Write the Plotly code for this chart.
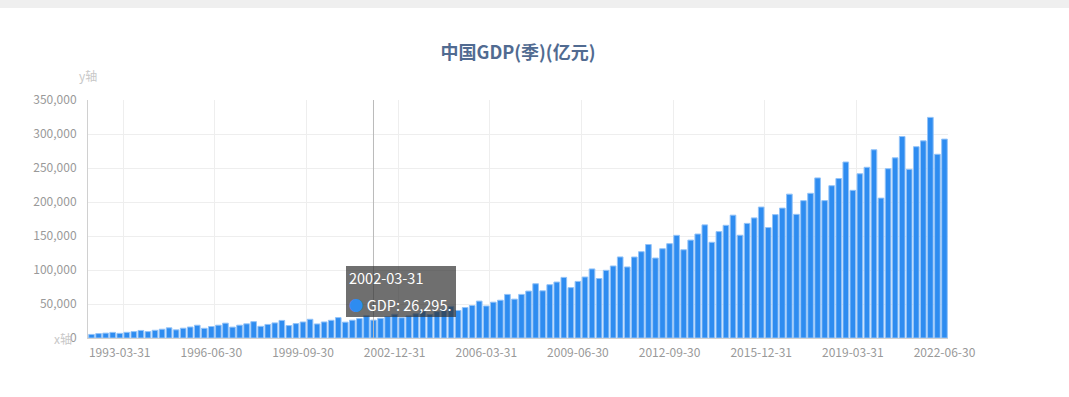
import plotly.graph_objects as go

# ---- data (亿元, quarterly) ----
years = list(range(1992, 2023))
quarter_ends = ["03-31", "06-30", "09-30", "12-31"]

gdp_1992_2001 = [
    5262.8, 6484.3, 7192.9, 8255.4,
    6834.6, 8357.0, 9385.4, 11096.6,
    9375.7, 11349.0, 12929.9, 14982.4,
    11981.9, 14389.8, 16178.0, 18789.6,
    14256.3, 16916.1, 18838.6, 21802.4,
    15998.9, 18853.8, 20851.4, 24010.9,
    17194.1, 19960.3, 22180.0, 25860.6,
    18272.2, 21168.2, 23575.6, 27548.0,
    20647.0, 23587.3, 26048.5, 29997.2,
    23299.3, 26191.0, 28610.2, 32762.5,
]
gdp_2002_2011 = [
    26295.3, 28971.9, 31535.6, 34914.1,
    29825.5, 32536.2, 35600.1, 39460.0,
    34544.4, 38701.6, 42004.9, 46588.9,
    40453.3, 44786.0, 47795.7, 54284.0,
    47078.0, 52673.0, 55577.0, 64111.0,
    57159.0, 64136.0, 69000.0, 79800.0,
    69410.0, 78400.0, 82300.0, 89135.0,
    74053.0, 83226.0, 89700.0, 101539.0,
    87501.0, 99533.0, 105900.0, 119185.0,
    104470.0, 119100.0, 126900.0, 137470.0,
]
gdp_2012_2022 = [
    117593.0, 131300.0, 138700.0, 150987.0,
    129747.0, 143967.0, 152905.0, 166344.0,
    140759.0, 156461.0, 165712.0, 180631.0,
    151137.0, 168549.0, 176597.0, 192575.0,
    162410.0, 181408.0, 191010.0, 211566.0,
    181867.0, 201950.0, 212789.0, 235428.0,
    202036.0, 223963.0, 234474.0, 258808.0,
    217168.0, 241502.0, 251046.0, 276798.0,
    205727.0, 248985.0, 264976.0, 296298.0,
    247984.0, 281339.0, 289904.0, 324431.0,
    270178.0, 292464.0,
]
gdp = gdp_1992_2001 + gdp_2002_2011 + gdp_2012_2022

dates = [f"{y}-{q}" for y in years for q in quarter_ends][: len(gdp)]

tick_labels = ["1993-03-31", "1996-06-30", "1999-09-30", "2002-12-31", "2006-03-31",
               "2009-06-30", "2012-09-30", "2015-12-31", "2019-03-31", "2022-06-30"]
y_ticks = [0, 50000, 100000, 150000, 200000, 250000, 300000, 350000]

tooltip_date = "2002-03-31"

# ---- figure ----
idx = list(range(len(dates)))
tick_idx = [dates.index(t) for t in tick_labels]
hover_i = dates.index(tooltip_date)

FONT = "Noto Sans CJK SC, Microsoft YaHei, sans-serif"
BAR = "#2e8cf0"
TIP_BG = "rgba(50,50,50,0.7)"

fig = go.Figure()
fig.add_trace(go.Bar(
    x=idx, y=gdp, name="GDP",
    marker=dict(color=BAR, line=dict(color="#93c3f8", width=1)),
    hoverinfo="skip",
))

fig.update_layout(
    width=1069, height=397,
    margin=dict(l=88, r=121, t=100, b=59),
    paper_bgcolor="white", plot_bgcolor="white",
    font=dict(family=FONT, size=12, color="#999"),
    showlegend=False,
    bargap=0.2,
    hovermode=False,
    title=dict(
        text="<b>中国GDP(季)(亿元)</b>",
        x=0.5, xref="paper", xanchor="center",
        y=1 - 53 / 397, yref="container", yanchor="middle",
        font=dict(family=FONT, size=18, color="#516b91"),
    ),
    xaxis=dict(
        range=[-0.5, len(dates) - 0.5],
        tickmode="array", tickvals=tick_idx, ticktext=tick_labels,
        showgrid=False, zeroline=False,
        ticks="", ticklabelstandoff=4,
        showline=True, linecolor="#d0d0d0", linewidth=1,
        tickfont=dict(size=12, color="#999"),
        minor=dict(tickmode="array", tickvals=[i + 0.5 for i in tick_idx] + [-0.5],
                   showgrid=True, gridcolor="#eeeeee", gridwidth=1, ticks=""),
    ),
    yaxis=dict(
        range=[0, 350000], tickmode="array", tickvals=y_ticks,
        tickformat=",d",
        showgrid=True, gridcolor="#eeeeee", gridwidth=1,
        zeroline=False, ticks="", ticklabelstandoff=8,
        showline=True, linecolor="#d0d0d0", linewidth=1,
        tickfont=dict(size=12, color="#999"),
    ),
)

# top grey band of the page
fig.add_shape(type="rect", xref="paper", yref="paper",
              x0=-0.2, x1=1.3, y0=1 + 92 / 238, y1=1 + 110 / 238,
              fillcolor="#efefef", line=dict(width=0), layer="below")

# axis names
fig.add_annotation(text="y轴", xref="paper", yref="paper", x=0, y=1,
                   xanchor="center", yanchor="bottom", yshift=14, showarrow=False,
                   font=dict(family=FONT, size=12, color="#c8c8c8"))
fig.add_annotation(text="x轴", xref="paper", yref="paper", x=0, y=0,
                   xanchor="right", yanchor="middle", xshift=-14, showarrow=False,
                   font=dict(family=FONT, size=12, color="#c8c8c8"))

# axis pointer line + tooltip (two stacked boxes forming one panel)
fig.add_shape(type="line", xref="x", yref="paper", x0=hover_i, x1=hover_i, y0=0, y1=1,
              line=dict(color="#bbbbbb", width=1), layer="above")
tip_top = (338.3 - 266) / 238.3
tip_mid = (338.3 - 291) / 238.3
fig.add_annotation(
    text=tooltip_date,
    xref="x", yref="paper", x=hover_i, y=tip_top,
    xanchor="left", yanchor="top", xshift=-27, showarrow=False,
    align="left", valign="bottom", width=104, height=19, borderpad=3,
    bgcolor=TIP_BG, borderwidth=0,
    font=dict(family=FONT, size=14.5, color="white"),
)
fig.add_annotation(
    text=f"<span style='color:{BAR}'>●</span> GDP: {int(gdp[hover_i]):,}.",
    xref="x", yref="paper", x=hover_i, y=tip_mid,
    xanchor="left", yanchor="top", xshift=-27, showarrow=False,
    align="left", valign="top", width=104, height=20, borderpad=3,
    bgcolor=TIP_BG, borderwidth=0,
    font=dict(family=FONT, size=14.5, color="white"),
)

fig.write_html("out.html", config={"displayModeBar": False},
               post_script="document.body.style.margin='0';")
